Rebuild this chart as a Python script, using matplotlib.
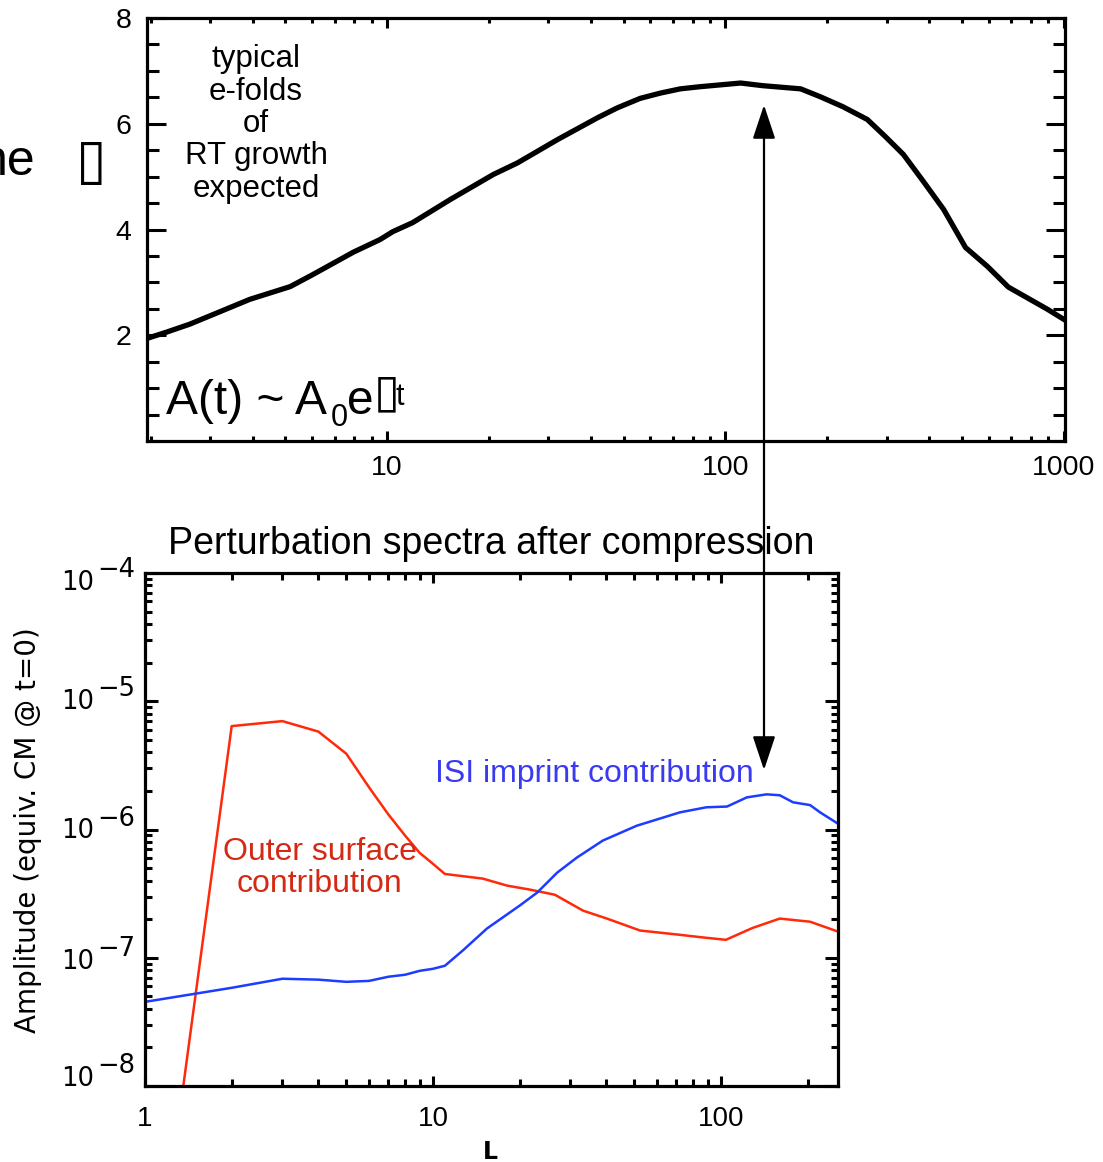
import numpy as np
import matplotlib
matplotlib.use("Agg")
import matplotlib.pyplot as plt
from matplotlib.ticker import LogLocator, MultipleLocator, FixedLocator, NullFormatter
from matplotlib.patches import FancyArrowPatch

# ---- growth curve: e-folds of RT growth vs mode number ----
growth_L = [1.95, 2.23, 2.61, 3.93, 5.17, 6.04, 7.94, 9.53, 10.4, 11.9, 15.4, 20.6,
            24.3, 31.9, 41.8, 47.9, 56.0, 64.3, 73.6, 84.0, 111, 129, 167, 191, 223,
            263, 297, 336, 385, 442, 513, 596, 687, 897, 1014]
growth_efolds = [1.94, 2.06, 2.21, 2.68, 2.92, 3.15, 3.57, 3.81, 3.96, 4.13, 4.57, 5.04,
                 5.26, 5.70, 6.11, 6.30, 6.48, 6.58, 6.66, 6.70, 6.77, 6.72, 6.66, 6.51, 6.32,
                 6.08, 5.76, 5.42, 4.91, 4.38, 3.66, 3.30, 2.91, 2.49, 2.28]

# ---- perturbation spectra after compression ----
outer_L = [1, 2, 3, 4, 5, 6, 7, 8, 9, 10, 11, 14.9, 18.1, 21.7, 26.5, 33.2, 40.2,
           52.4, 72, 86.6, 104, 129, 160, 204, 255]
outer_amp = [6e-11, 6.4e-6, 7.0e-6, 5.8e-6, 3.9e-6, 2.13e-6, 1.31e-6, 8.97e-7, 6.56e-7,
             5.4e-7, 4.5e-7, 4.14e-7, 3.65e-7, 3.40e-7, 3.10e-7, 2.33e-7, 2.02e-7,
             1.63e-7, 1.51e-7, 1.44e-7, 1.38e-7, 1.71e-7, 2.02e-7, 1.91e-7, 1.60e-7]

isi_L = [1, 2, 3, 4, 5, 6, 7, 8, 9, 10, 11, 12.7, 15.4, 20, 23, 27, 31.6, 38.9, 51,
         72, 89, 105, 123, 144, 160, 178, 204, 221, 255]
isi_amp = [4.53e-8, 5.83e-8, 6.86e-8, 6.75e-8, 6.49e-8, 6.6e-8, 7.11e-8, 7.37e-8,
           7.91e-8, 8.2e-8, 8.66e-8, 1.14e-7, 1.69e-7, 2.55e-7, 3.22e-7, 4.61e-7,
           6.04e-7, 8.2e-7, 1.07e-6, 1.36e-6, 1.49e-6, 1.51e-6, 1.78e-6, 1.88e-6,
           1.85e-6, 1.63e-6, 1.55e-6, 1.36e-6, 1.11e-6]

growth_yticks = [2, 4, 6, 8]
growth_xticks = [10, 100, 1000]
spec_xticks = [1, 10, 100]
spec_yexp = [-4, -5, -6, -7, -8]

plt.rcParams['font.family'] = ['Liberation Sans', 'DejaVu Sans']

W, H, DPI = 1103, 1162, 100
fig = plt.figure(figsize=(W / DPI, H / DPI), dpi=DPI)


def fx(px):
    return px / W


def fy(py):
    return 1 - py / H


# ---------------- upper panel ----------------
ax1 = fig.add_axes([fx(147), fy(441), (1065 - 147) / W, (441 - 18) / H])
ax1.plot(growth_L, growth_efolds, color='black', lw=3.8, solid_joinstyle='round')
ax1.set_xscale('log')
ax1.set_xlim(1.95, 1010)
ax1.set_ylim(0, 8)
ax1.set_yticks(growth_yticks)
ax1.set_yticklabels([str(v) for v in growth_yticks])
ax1.yaxis.set_minor_locator(MultipleLocator(0.5))
ax1.set_xticks(growth_xticks)
ax1.set_xticklabels([str(v) for v in growth_xticks])
ax1.xaxis.set_minor_locator(LogLocator(base=10, subs=np.arange(2, 10), numticks=50))
ax1.xaxis.set_minor_formatter(NullFormatter())
ax1.tick_params(which='both', direction='in', top=True, right=True, width=2.2,
                labelsize=20.5)
ax1.tick_params(axis='y', which='major', length=14, pad=11)
ax1.tick_params(axis='y', which='minor', length=8.5)
ax1.tick_params(axis='x', which='major', length=7, pad=10)
ax1.tick_params(axis='x', which='minor', length=3.8)
for s in ax1.spines.values():
    s.set_linewidth(2.3)

fig.text(fx(256), fy(124), 'typical\ne-folds\nof\nRT growth\nexpected',
         ha='center', va='center', fontsize=22.5, linespacing=1.1)

# growth law written in pieces
fig.text(fx(166), fy(414), 'A(t) ~ A', fontsize=34.5, va='baseline')
fig.text(fx(331), fy(426), '0', fontsize=22, va='baseline')
fig.text(fx(347), fy(414), 'e', fontsize=34.5, va='baseline')
fig.text(fx(374), fy(406), '\u25af', fontsize=34, va='baseline',
         family=['DejaVu Sans'])
fig.text(fx(395), fy(405), 't', fontsize=22, va='baseline')

# left margin fragment
fig.text(fx(35), fy(175), 'ne', ha='right', va='baseline', fontsize=36)
fig.text(fx(76), fy(178), '\u25af', ha='left', va='baseline', fontsize=40,
         family=['DejaVu Sans'])

# ---------------- lower panel ----------------
ax2 = fig.add_axes([fx(145), fy(1086), (838 - 145) / W, (1086 - 573) / H])
ax2.plot(outer_L, outer_amp, color='#ff2a0a', lw=1.8)
ax2.plot(isi_L, isi_amp, color='#1c3cff', lw=1.8)
ax2.set_xscale('log')
ax2.set_yscale('log')
ax2.set_xlim(1, 255)
ax2.set_ylim(1e-8, 1e-4)
ax2.set_xticks(spec_xticks)
ax2.set_xticklabels([str(v) for v in spec_xticks])
ax2.xaxis.set_minor_locator(LogLocator(base=10, subs=np.arange(2, 10), numticks=50))
ax2.xaxis.set_minor_formatter(NullFormatter())
ax2.yaxis.set_major_locator(FixedLocator(10.0 ** np.array(spec_yexp)))
ax2.yaxis.set_minor_locator(LogLocator(base=10, subs=np.arange(2, 10), numticks=50))
ax2.yaxis.set_major_formatter(NullFormatter())
ax2.yaxis.set_minor_formatter(NullFormatter())
ax2.tick_params(which='both', direction='in', top=True, right=True, width=2.2,
                labelsize=20)
ax2.tick_params(axis='y', which='major', length=9.5)
ax2.tick_params(axis='y', which='minor', length=5)
ax2.tick_params(axis='x', which='major', length=7.5, pad=14.5)
ax2.tick_params(axis='x', which='minor', length=5)
for s in ax2.spines.values():
    s.set_linewidth(2.3)

# decade labels with full-size exponents
label_dy = [10, 1, 2, 4, -7]
for e, dy in zip(spec_yexp, label_dy):
    v = 10.0 ** e
    ax2.annotate('10', xy=(0, v), xycoords=('axes fraction', 'data'),
                 xytext=(-51, -dy), textcoords='offset pixels', ha='right',
                 va='center', fontsize=18.5, family=['DejaVu Sans'],
                 annotation_clip=False)
    ax2.annotate('\u2212' + str(-e), xy=(0, v), xycoords=('axes fraction', 'data'),
                 xytext=(-48, -dy + 13), textcoords='offset pixels', ha='left',
                 va='center', fontsize=18.5, family=['DejaVu Sans'],
                 annotation_clip=False)

ax2.set_title('Perturbation spectra after compression', fontsize=27, pad=14)
ax2.set_xlabel('L', fontsize=17, fontweight='bold', family=['DejaVu Sans'],
               va='center')
ax2.xaxis.set_label_coords((490 - 145) / 693, (1086 - 1152) / 513)
ax2.set_ylabel('Amplitude (equiv. CM @ t=0)', fontsize=20, family=['DejaVu Sans'],
               va='center')
ax2.yaxis.set_label_coords((28 - 145) / 693, (1086 - 830) / 513)

fig.text(fx(320), fy(868), 'Outer surface\ncontribution', color='#d42a14',
         fontsize=23, ha='center', va='center', linespacing=1.1)
fig.text(fx(594), fy(782), 'ISI imprint contribution', color='#3a3af0',
         fontsize=23, ha='center', va='baseline')

# double arrow linking the growth peak to the spectrum peak
arrow = FancyArrowPatch(posA=(fx(764), fy(770)), posB=(fx(764), fy(105)),
                        transform=fig.transFigure,
                        arrowstyle='<|-|>,head_length=21,head_width=7',
                        mutation_scale=1, lw=1.6, color='black',
                        shrinkA=0, shrinkB=0, zorder=10)
fig.add_artist(arrow)

fig.savefig('out.png', dpi=DPI)
